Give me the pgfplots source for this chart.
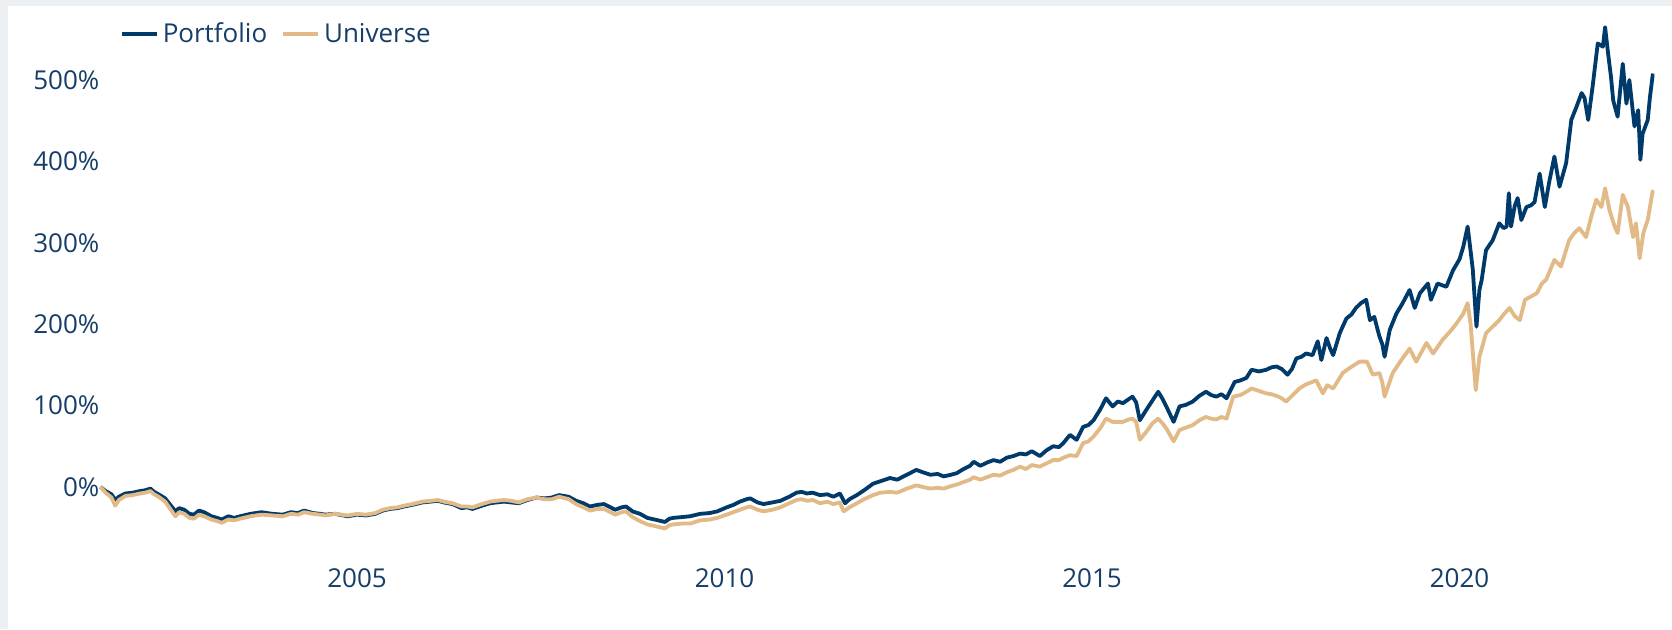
\documentclass[border=0pt]{standalone}
\usepackage{fontspec}
\setmainfont{Open Sans}
\usepackage{pgfplots}
\pgfplotsset{compat=1.18}
\usepackage{pgfplotstable}
\definecolor{navyline}{RGB}{0,58,106}
\definecolor{tanline}{RGB}{226,186,135}
\definecolor{txt}{RGB}{22,62,104}
\definecolor{bggray}{RGB}{236,240,243}

\pgfplotstableread{
year val
2001.51 0
2001.58 -5
2001.66 -9
2001.71 -16
2001.76 -12
2001.85 -8
2001.95 -7
2002.05 -5
2002.12 -4
2002.19 -2
2002.24 -6
2002.30 -9
2002.39 -14
2002.46 -22
2002.53 -30
2002.58 -26
2002.65 -28
2002.72 -33
2002.78 -34
2002.85 -29
2002.92 -31
2003.02 -36
2003.10 -38
2003.16 -40
2003.25 -36
2003.33 -38
2003.41 -36
2003.55 -33
2003.70 -31
2003.85 -33
2003.99 -34
2004.10 -31
2004.20 -32
2004.28 -29
2004.40 -32
2004.50 -33
2004.57 -34
2004.70 -33
2004.87 -36
2005.00 -34
2005.12 -35
2005.25 -33
2005.35 -29
2005.45 -27
2005.55 -26
2005.64 -24
2005.75 -22
2005.89 -19
2006.00 -18
2006.10 -17
2006.18 -19
2006.30 -21
2006.42 -26
2006.50 -25
2006.57 -27
2006.70 -23
2006.81 -20
2006.90 -19
2007.00 -18
2007.10 -19
2007.20 -20
2007.32 -16
2007.44 -13
2007.55 -14
2007.65 -13
2007.75 -10
2007.88 -12
2007.98 -17
2008.08 -20
2008.17 -24
2008.27 -22
2008.36 -21
2008.45 -25
2008.51 -28
2008.60 -25
2008.66 -24
2008.75 -30
2008.85 -33
2008.95 -38
2009.05 -40
2009.19 -43
2009.25 -39
2009.30 -38
2009.42 -37
2009.53 -36
2009.67 -33
2009.80 -32
2009.90 -30
2010.03 -25
2010.12 -22
2010.21 -18
2010.30 -15
2010.35 -14
2010.45 -19
2010.53 -21
2010.65 -19
2010.76 -17
2010.88 -12
2010.98 -7
2011.05 -6
2011.12 -8
2011.20 -7
2011.30 -10
2011.40 -9
2011.48 -12
2011.57 -8
2011.64 -20
2011.70 -15
2011.80 -10
2011.90 -4
2012.02 4
2012.12 7
2012.25 11
2012.35 9
2012.48 15
2012.61 21
2012.70 18
2012.80 15
2012.90 16
2012.98 13
2013.08 15
2013.16 17
2013.25 22
2013.34 26
2013.39 31
2013.48 26
2013.57 30
2013.66 33
2013.75 31
2013.84 36
2013.93 38
2014.02 41
2014.10 40
2014.18 44
2014.29 38
2014.38 45
2014.47 50
2014.55 49
2014.61 54
2014.70 64
2014.79 58
2014.88 74
2014.95 76
2015.02 82
2015.11 95
2015.19 109
2015.28 99
2015.35 105
2015.42 103
2015.50 108
2015.55 111
2015.60 104
2015.65 82
2015.74 95
2015.82 106
2015.90 117
2015.96 108
2016.01 99
2016.11 80
2016.19 99
2016.28 101
2016.37 105
2016.46 112
2016.55 117
2016.62 113
2016.69 111
2016.76 114
2016.83 109
2016.94 129
2017.02 131
2017.10 134
2017.17 144
2017.27 142
2017.37 144
2017.44 147
2017.51 148
2017.58 145
2017.66 138
2017.72 145
2017.78 158
2017.85 160
2017.91 164
2018.00 162
2018.07 179
2018.12 156
2018.19 183
2018.24 170
2018.28 162
2018.37 189
2018.46 207
2018.53 212
2018.59 220
2018.66 226
2018.73 230
2018.78 205
2018.84 209
2018.88 195
2018.91 185
2018.95 175
2018.98 160
2019.05 193
2019.14 213
2019.22 225
2019.32 242
2019.39 220
2019.46 238
2019.57 250
2019.61 230
2019.70 250
2019.76 248
2019.82 246
2019.91 266
2020.00 280
2020.05 295
2020.11 320
2020.15 290
2020.18 267
2020.23 197
2020.27 242
2020.30 254
2020.36 291
2020.45 303
2020.54 324
2020.60 318
2020.64 320
2020.67 361
2020.70 320
2020.75 345
2020.79 355
2020.84 328
2020.91 344
2020.97 346
2021.02 350
2021.09 385
2021.16 344
2021.22 375
2021.29 406
2021.36 369
2021.45 398
2021.52 451
2021.59 467
2021.66 484
2021.70 478
2021.75 451
2021.81 492
2021.88 545
2021.95 541
2021.98 565
2022.02 533
2022.06 504
2022.09 475
2022.15 455
2022.22 520
2022.27 471
2022.31 500
2022.38 443
2022.43 463
2022.46 402
2022.49 434
2022.56 451
2022.59 479
2022.63 508
}\portfolio

\pgfplotstableread{
year val
2001.51 0
2001.58 -7
2001.66 -13
2001.71 -23
2001.76 -16
2001.85 -11
2001.95 -10
2002.05 -8
2002.12 -7
2002.19 -5
2002.24 -9
2002.30 -12
2002.39 -18
2002.46 -27
2002.53 -36
2002.58 -31
2002.65 -33
2002.72 -38
2002.78 -39
2002.85 -34
2002.92 -36
2003.02 -40
2003.10 -42
2003.16 -44
2003.25 -40
2003.33 -41
2003.41 -39
2003.55 -36
2003.70 -34
2003.85 -35
2003.99 -36
2004.10 -33
2004.20 -34
2004.28 -31
2004.40 -33
2004.50 -34
2004.57 -35
2004.70 -33
2004.87 -35
2005.00 -33
2005.12 -34
2005.25 -32
2005.35 -28
2005.45 -26
2005.55 -25
2005.64 -23
2005.75 -21
2005.89 -18
2006.00 -17
2006.10 -16
2006.18 -18
2006.30 -20
2006.42 -24
2006.50 -24
2006.57 -25
2006.70 -21
2006.81 -18
2006.90 -17
2007.00 -16
2007.10 -17
2007.20 -19
2007.32 -15
2007.44 -13
2007.55 -15
2007.65 -15
2007.75 -12
2007.88 -15
2007.98 -21
2008.08 -25
2008.17 -29
2008.27 -27
2008.36 -27
2008.45 -31
2008.51 -34
2008.60 -31
2008.66 -30
2008.75 -37
2008.85 -42
2008.95 -46
2009.05 -48
2009.19 -51
2009.25 -47
2009.30 -46
2009.42 -45
2009.53 -45
2009.67 -41
2009.80 -40
2009.90 -38
2010.03 -34
2010.12 -31
2010.21 -28
2010.30 -25
2010.35 -24
2010.45 -28
2010.53 -30
2010.65 -28
2010.76 -25
2010.88 -20
2010.98 -16
2011.05 -15
2011.12 -17
2011.20 -16
2011.30 -20
2011.40 -18
2011.48 -21
2011.57 -19
2011.62 -30
2011.70 -25
2011.80 -20
2011.90 -15
2012.02 -10
2012.12 -7
2012.25 -6
2012.35 -7
2012.48 -2
2012.61 2
2012.70 0
2012.80 -2
2012.90 -1
2012.98 -2
2013.08 1
2013.16 3
2013.25 6
2013.34 9
2013.39 12
2013.48 9
2013.57 12
2013.66 15
2013.75 14
2013.84 18
2013.93 21
2014.02 25
2014.10 22
2014.18 27
2014.29 25
2014.38 29
2014.47 33
2014.55 33
2014.61 36
2014.70 39
2014.79 38
2014.88 54
2014.95 56
2015.02 62
2015.11 72
2015.19 84
2015.28 80
2015.35 80
2015.42 80
2015.50 83
2015.55 84
2015.60 80
2015.65 58
2015.74 68
2015.82 78
2015.90 84
2015.96 78
2016.01 72
2016.11 56
2016.19 70
2016.28 73
2016.37 76
2016.46 82
2016.55 86
2016.62 84
2016.69 83
2016.76 86
2016.83 84
2016.92 111
2017.02 113
2017.10 117
2017.17 121
2017.27 118
2017.37 115
2017.44 114
2017.51 112
2017.58 109
2017.64 105
2017.72 112
2017.82 121
2017.91 126
2018.05 131
2018.14 115
2018.20 125
2018.28 121
2018.41 140
2018.50 146
2018.64 154
2018.74 154
2018.82 138
2018.91 140
2018.95 128
2018.98 111
2019.09 140
2019.20 155
2019.32 170
2019.41 154
2019.55 177
2019.64 164
2019.77 181
2019.88 192
2019.96 201
2020.05 213
2020.11 226
2020.15 200
2020.22 119
2020.27 160
2020.36 189
2020.45 197
2020.54 205
2020.60 212
2020.68 220
2020.75 210
2020.82 205
2020.89 230
2020.97 234
2021.05 238
2021.12 250
2021.18 255
2021.29 279
2021.38 271
2021.49 303
2021.56 312
2021.63 318
2021.72 307
2021.80 335
2021.86 353
2021.93 344
2021.98 367
2022.04 340
2022.11 320
2022.15 312
2022.22 359
2022.29 344
2022.36 307
2022.40 324
2022.45 281
2022.50 312
2022.56 328
2022.63 365
}\universe

\begin{document}
\begin{tikzpicture}
\useasboundingbox (0,0) rectangle (836pt,314.5pt);
\fill[bggray] (0,0) rectangle (836pt,314.5pt);
\fill[white] (4.15pt,0) rectangle (836pt,311.5pt);
\begin{axis}[
  at={(49.875pt,46.6pt)}, anchor=south west,
  scale only axis, width=777.3pt, height=258.4pt,
  xmin=2001.5, xmax=2022.65, ymin=-60, ymax=575,
  axis line style={draw=none}, tick style={draw=none},
  xtick={2005,2010,2015,2020},
  xticklabels={2005,2010,2015,2020},
  ytick={0,100,200,300,400,500},
  yticklabels={0\%,100\%,200\%,300\%,400\%,500\%},
  tick label style={font=\fontsize{13pt}{15pt}\selectfont, text=txt},
  yticklabel style={anchor=east, inner sep=0pt},
  xticklabel style={anchor=base, yshift=-25.6pt},
  legend style={draw=none, fill=none, inner sep=0pt, outer sep=0pt,
    at={(0.0130,0.971)}, anchor=west,
    font=\fontsize{13pt}{15pt}\selectfont, text=txt,
    nodes={inner sep=0pt},
    /tikz/every odd column/.append style={column sep=2pt},
    /tikz/every even column/.append style={column sep=7pt}},
  legend columns=-1,
  legend image code/.code={\draw[#1] (0pt,0pt) -- (17.5pt,0pt);},
  every axis plot/.append style={line width=1.9pt, line join=round},
]
\addplot[navyline, no markers] table[x=year, y=val] {\portfolio};
\addlegendentry{Portfolio}
\addplot[tanline, no markers] table[x=year, y=val] {\universe};
\addlegendentry{Universe}
\end{axis}
\end{tikzpicture}
\end{document}
